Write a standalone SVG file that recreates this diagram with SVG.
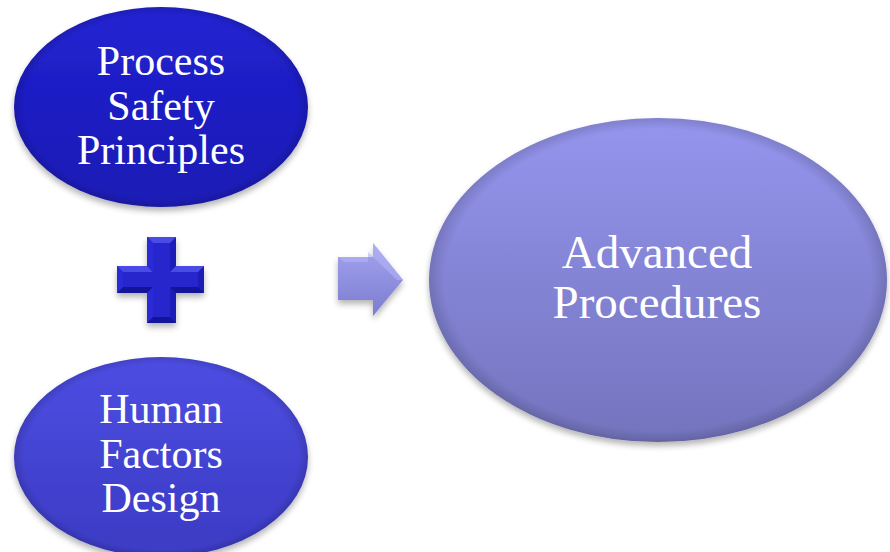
<svg xmlns="http://www.w3.org/2000/svg" width="890" height="552" viewBox="0 0 890 552">
  <defs>
    <linearGradient id="gTop" x1="0" y1="0" x2="0" y2="1">
      <stop offset="0" stop-color="#2222d2"/>
      <stop offset="1" stop-color="#1a1ab4"/>
    </linearGradient>
    <linearGradient id="gBottom" x1="0" y1="0" x2="0" y2="1">
      <stop offset="0" stop-color="#4d4de2"/>
      <stop offset="1" stop-color="#3b3bc4"/>
    </linearGradient>
    <linearGradient id="gBig" x1="0" y1="0" x2="0" y2="1">
      <stop offset="0" stop-color="#9595ee"/>
      <stop offset="1" stop-color="#7373bd"/>
    </linearGradient>
    <linearGradient id="gArrow" x1="0" y1="0" x2="0" y2="1">
      <stop offset="0" stop-color="#a4a4f0"/>
      <stop offset="1" stop-color="#7c7cd0"/>
    </linearGradient>
    <radialGradient id="gRim" cx="0.5" cy="0.5" r="0.5">
      <stop offset="0.93" stop-color="#000" stop-opacity="0"/>
      <stop offset="1" stop-color="#000" stop-opacity="0.14"/>
    </radialGradient>
    <filter id="shadow" x="-10%" y="-10%" width="120%" height="130%">
      <feGaussianBlur in="SourceAlpha" stdDeviation="3"/>
      <feOffset dy="4" result="b"/>
      <feComponentTransfer><feFuncA type="linear" slope="0.3"/></feComponentTransfer>
      <feMerge><feMergeNode/><feMergeNode in="SourceGraphic"/></feMerge>
    </filter>
    <style>
      .label { font-family: "Liberation Serif", "Times New Roman", serif; fill: #ffffff; text-anchor: middle; }
      .small { font-size: 42px; }
      .large { font-size: 47px; }
      .rim { fill: url(#gRim); }
    </style>
  </defs>

  <rect width="890" height="552" fill="#ffffff"/>

  <!-- Process Safety Principles -->
  <g id="process-safety">
    <ellipse cx="161" cy="107" rx="147" ry="100" fill="url(#gTop)" filter="url(#shadow)"/>
    <ellipse class="rim" cx="161" cy="107" rx="147" ry="100"/>
    <text class="label small" x="161" y="75">Process</text>
    <text class="label small" x="161" y="120">Safety</text>
    <text class="label small" x="161" y="164">Principles</text>
  </g>

  <!-- plus sign with bevelled faces -->
  <g id="plus">
    <g filter="url(#shadow)">
      <polygon points="147,237 176,237 176,266 204,266 204,293 176,293 176,323 147,323 147,293 117,293 117,266 147,266" fill="#1e1eb8"/>
    </g>
    <g fill="#4a4ae6">
      <polygon points="147,237 176,237 170,243 153,243"/>
      <polygon points="117,266 147,266 153,272 123,272"/>
      <polygon points="176,266 204,266 198,272 170,272"/>
    </g>
    <g fill="#14149a">
      <polygon points="147,323 176,323 170,317 153,317"/>
      <polygon points="117,293 147,293 153,287 123,287"/>
      <polygon points="176,293 204,293 198,287 170,287"/>
    </g>
    <g fill="#2a2ad6">
      <polygon points="147,237 153,243 153,272 147,266"/>
      <polygon points="147,293 153,287 153,317 147,323"/>
      <polygon points="117,266 123,272 123,287 117,293"/>
    </g>
    <polygon points="153,243 170,243 170,272 198,272 198,287 170,287 170,317 153,317 153,287 123,287 123,272 153,272" fill="#2626cc"/>
  </g>

  <!-- Human Factors Design -->
  <g id="human-factors">
    <ellipse cx="161" cy="457" rx="147" ry="100" fill="url(#gBottom)" filter="url(#shadow)"/>
    <ellipse class="rim" cx="161" cy="457" rx="147" ry="100"/>
    <text class="label small" x="161" y="423">Human</text>
    <text class="label small" x="161" y="468">Factors</text>
    <text class="label small" x="161" y="512">Design</text>
  </g>

  <!-- connectors -->
  <g id="connectors">
    <polygon points="338,257 373,257 373,243 403,280 373,316 373,300 338,300" fill="url(#gArrow)" filter="url(#shadow)"/>
    <polygon points="338,257 373,257 373,243 403,280 397,280 368,252 368,262 344,262" fill="#b4b4f6" opacity="0.6"/>
  </g>

  <!-- Advanced Procedures -->
  <g id="advanced-procedures">
    <ellipse cx="658" cy="280" rx="229" ry="162" fill="url(#gBig)" filter="url(#shadow)"/>
    <ellipse class="rim" cx="658" cy="280" rx="229" ry="162"/>
    <text class="label large" x="657" y="268">Advanced</text>
    <text class="label large" x="657" y="318">Procedures</text>
  </g>
</svg>
